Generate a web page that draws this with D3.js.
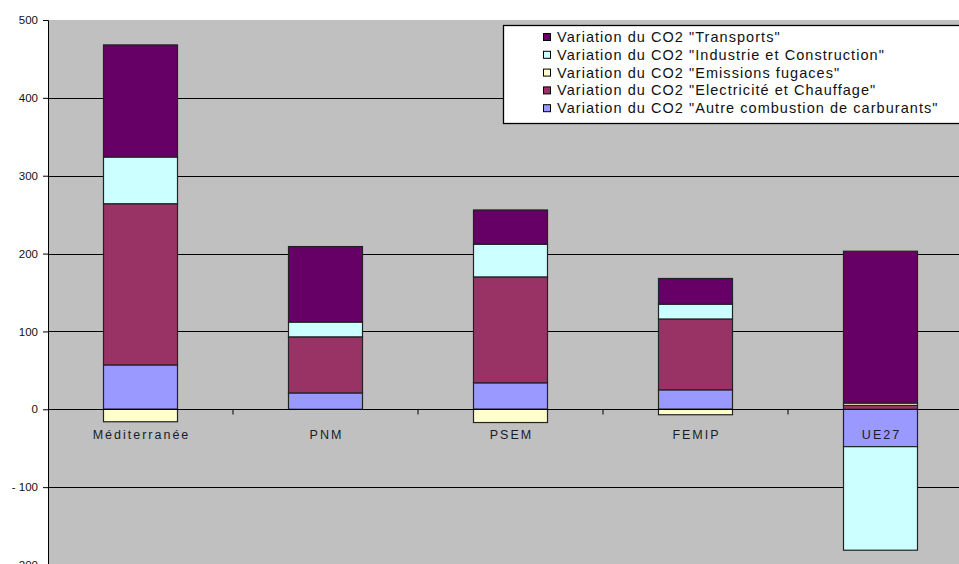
<!DOCTYPE html>
<html><head><meta charset="utf-8">
<script src="https://cdn.jsdelivr.net/npm/d3@7"></script>
<style>
html,body{margin:0;padding:0;background:#fff;}
svg{display:block;font-family:Arial,"Liberation Sans",sans-serif;}
</style></head>
<body><svg id="c" width="959" height="564"></svg>
<script>
const categories = ["Méditerranée", "PNM", "PSEM", "FEMIP", "UE27"];
const seriesNames = [
  'Variation du CO2 "Autre combustion de carburants"',
  'Variation du CO2 "Electricité et Chauffage"',
  'Variation du CO2 "Emissions fugaces"',
  'Variation du CO2 "Industrie et Construction"',
  'Variation du CO2 "Transports"'
];
const autre      = [57, 21, 34, 25, -48];
const electricite= [207, 72, 136, 91, 5];
const fugaces    = [-16, 0, -17, -7, 3];
const industrie  = [60, 19, 42, 19, -133];
const transports = [144, 97, 44, 33, 195];
const yTicks = [-200, -100, 0, 100, 200, 300, 400, 500];
const colors = ["#9999FF", "#993366", "#FFFFCC", "#CCFFFF", "#660066"];

const seriesValues = [autre, electricite, fugaces, industrie, transports];
const rows = categories.map((c, i) => {
  const r = {cat: c};
  seriesNames.forEach((s, k) => r[s] = seriesValues[k][i]);
  return r;
});

const svg = d3.select("#c");
const pLeft = 48, pTop = 20, pRight = 973, pBottom = 565;

const x = d3.scaleBand().domain(categories).range([pLeft, pRight]).paddingInner(0.6).paddingOuter(0.3);
const y = d3.scaleLinear().domain([-200, 500]).range([pBottom, pTop]);

svg.append("rect").attr("x", pLeft).attr("y", pTop).attr("width", 959 - pLeft).attr("height", pBottom - pTop).attr("fill", "#C0C0C0");

// gridlines
svg.append("g").selectAll("line").data(yTicks.filter(t => t !== 500 && t !== -200)).join("line")
  .attr("x1", pLeft).attr("x2", 959).attr("y1", d => Math.round(y(d)) + 0.5).attr("y2", d => Math.round(y(d)) + 0.5)
  .attr("stroke", "#000").attr("stroke-width", 1);

const stack = d3.stack().keys(seriesNames).offset(d3.stackOffsetDiverging);
const stacked = stack(rows);

svg.append("g").selectAll("g").data(stacked).join("g")
  .attr("fill", (d, i) => colors[i])
  .selectAll("rect").data(d => d.filter(v => v[0] !== v[1])).join("rect")
  .attr("x", d => x(d.data.cat))
  .attr("width", x.bandwidth())
  .attr("y", d => y(Math.max(d[0], d[1])))
  .attr("height", d => Math.abs(y(d[0]) - y(d[1])))
  .attr("stroke", "#222").attr("stroke-width", 1.2);

// y axis
const yAxis = d3.axisLeft(y).tickValues(yTicks).tickSize(5).tickPadding(5)
  .tickFormat(d => d < 0 ? "- " + Math.abs(d) : String(d));
const ga = svg.append("g").attr("transform", `translate(${pLeft},0)`).call(yAxis);
ga.select(".domain").attr("stroke", "#000");
ga.selectAll("text").attr("font-size", 11.5).attr("fill", "#111").attr("font-family", "Arial, 'Liberation Sans', sans-serif");

// x axis at zero
const xAxisG = svg.append("g").attr("transform", `translate(0,${Math.round(y(0)) + 0.5})`);
xAxisG.append("line").attr("x1", pLeft).attr("x2", 959).attr("stroke", "#000");
const bounds = d3.range(1, categories.length).map(i => x.range()[0] + i * x.step());
xAxisG.selectAll(".tk").data(bounds).join("line").attr("class", "tk")
  .attr("x1", d => d).attr("x2", d => d).attr("y1", 0).attr("y2", 5).attr("stroke", "#000");
svg.append("g").selectAll("text").data(categories).join("text")
  .attr("x", d => x(d) + x.bandwidth() / 2 + 1).attr("y", y(0) + 30)
  .attr("text-anchor", "middle").attr("font-size", 12.5).attr("fill", "#1a1a2a")
  .attr("letter-spacing", "2px")
  .text(d => d);

// legend
const lg = svg.append("g");
lg.append("rect").attr("x", 503.5).attr("y", 25.5).attr("width", 460).attr("height", 98)
  .attr("fill", "#fff").attr("stroke", "#000").attr("stroke-width", 1.3);
const legendOrder = d3.range(seriesNames.length).reverse();
legendOrder.forEach((k, j) => {
  const cy = 37 + j * 17.8;
  lg.append("rect").attr("x", 543.5).attr("y", cy - 3.5).attr("width", 7).attr("height", 7)
    .attr("fill", colors[k]).attr("stroke", "#000");
  lg.append("text").attr("x", 557).attr("y", cy + 5).attr("font-size", 14.5).attr("fill", "#111")
    .attr("letter-spacing", "1.05px")
    .text(seriesNames[k]);
});
</script></body></html>
